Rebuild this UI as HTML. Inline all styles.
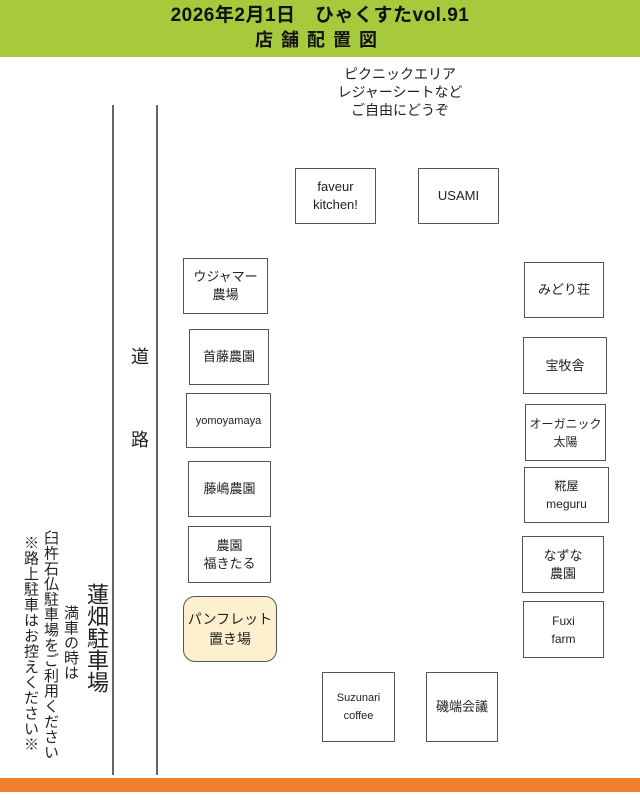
<!DOCTYPE html>
<html><head><meta charset="utf-8"><style>
body{margin:0;width:640px;height:800px;position:relative;background:#fff;overflow:hidden;font-family:"Liberation Sans","Noto Sans CJK JP",sans-serif;color:#222}
.hdr{position:absolute;left:0;top:0;width:640px;height:57px;background:#a7c93c;text-align:center;font-weight:bold;color:#111}
.b{position:absolute;border:1.5px solid #555;box-sizing:border-box;display:flex;align-items:center;justify-content:center;text-align:center;font-size:13px;line-height:18px;background:#fff}
.v{position:absolute;writing-mode:vertical-rl;color:#222}
.line{position:absolute;width:1.5px;background:#666;top:105px;height:670px}
</style></head><body>
<div class="hdr"><div style="font-size:19px;line-height:24px;padding-top:4px;letter-spacing:0.5px">2026年2月1日　ひゃくすたvol.91</div><div style="font-size:18px;line-height:24px;letter-spacing:8px">店舗配置図</div></div>
<div style="position:absolute;left:290px;width:220px;top:65px;text-align:center;font-size:14px;line-height:18px">ピクニックエリア<br>レジャーシートなど<br>ご自由にどうぞ</div>
<div class="line" style="left:112px"></div><div class="line" style="left:156px"></div>
<div class="v" style="left:126px;top:347px;font-size:18px">道</div>
<div class="v" style="left:126px;top:430px;font-size:18px">路</div>
<div class="b" style="left:295px;top:168px;width:81px;height:56px">faveur<br>kitchen!</div>
<div class="b" style="left:418px;top:168px;width:81px;height:56px">USAMI</div>
<div class="b" style="left:183px;top:258px;width:85px;height:56px">ウジャマー<br>農場</div>
<div class="b" style="left:189px;top:329px;width:80px;height:56px">首藤農園</div>
<div class="b" style="left:186px;top:393px;width:85px;height:55px;font-size:11px">yomoyamaya</div>
<div class="b" style="left:188px;top:461px;width:83px;height:56px">藤嶋農園</div>
<div class="b" style="left:188px;top:526px;width:83px;height:57px">農園<br>福きたる</div>
<div class="b" style="left:183px;top:596px;width:94px;height:66px;border-radius:12px;background:#fdf0cf;font-size:14px;line-height:20px">パンフレット<br>置き場</div>
<div class="b" style="left:322px;top:672px;width:73px;height:70px;font-size:11px">Suzunari<br>coffee</div>
<div class="b" style="left:426px;top:672px;width:72px;height:70px">磯端会議</div>
<div class="b" style="left:524px;top:262px;width:80px;height:56px">みどり荘</div>
<div class="b" style="left:523px;top:337px;width:84px;height:57px">宝牧舎</div>
<div class="b" style="left:525px;top:404px;width:81px;height:57px;font-size:12px">オーガニック<br>太陽</div>
<div class="b" style="left:524px;top:467px;width:85px;height:56px;font-size:12px">糀屋<br>meguru</div>
<div class="b" style="left:522px;top:536px;width:82px;height:57px">なずな<br>農園</div>
<div class="b" style="left:523px;top:601px;width:81px;height:57px;font-size:12px">Fuxi<br>farm</div>
<div class="v" style="left:83px;top:583px;font-size:22px;line-height:26px">蓮畑駐車場</div>
<div class="v" style="left:61px;top:605px;font-size:15px;line-height:18px">満車の時は</div>
<div class="v" style="left:41px;top:530px;font-size:15px;line-height:18px;letter-spacing:0.3px">臼杵石仏駐車場をご利用ください</div>
<div class="v" style="left:21px;top:535px;font-size:15px;line-height:18px;letter-spacing:0.5px">※路上駐車はお控えください※</div>
<div style="position:absolute;left:0;top:778px;width:640px;height:14px;background:#f08030"></div>
</body></html>
